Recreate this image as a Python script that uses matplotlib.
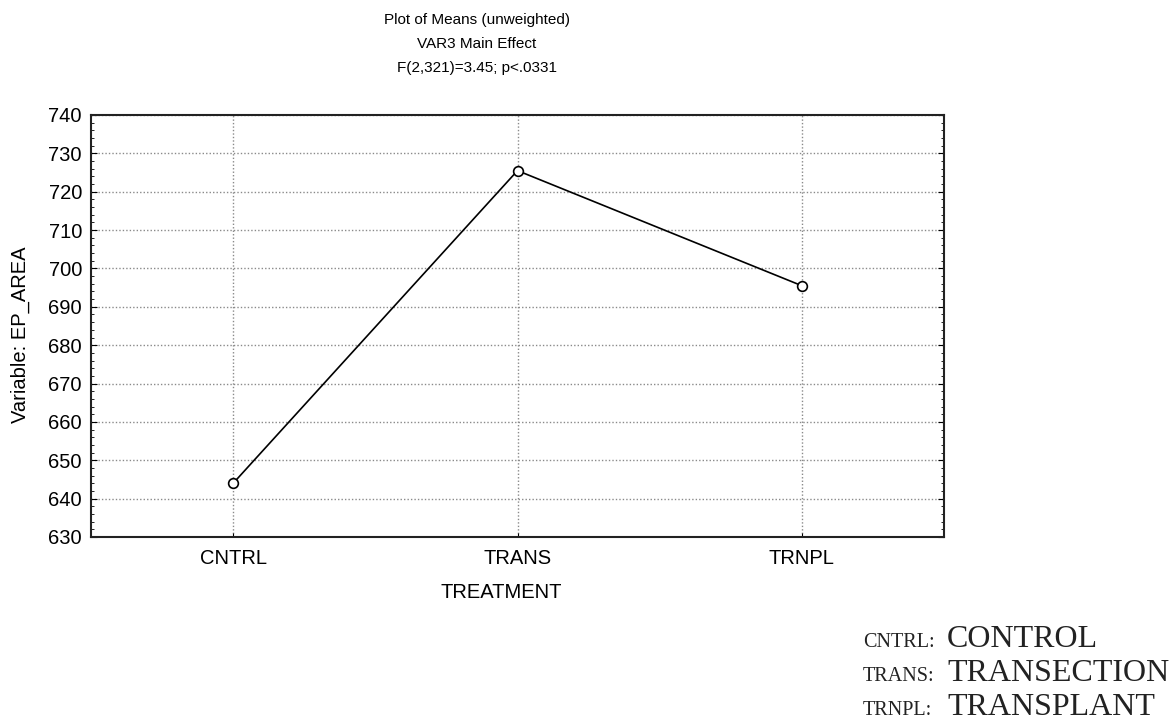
import numpy as np
import matplotlib
matplotlib.use('Agg')
import matplotlib.pyplot as plt
from matplotlib.ticker import MultipleLocator

categories = ['CNTRL', 'TRANS', 'TRNPL']
means = [644.0, 725.5, 695.5]
yticks = [630, 640, 650, 660, 670, 680, 690, 700, 710, 720, 730, 740]
title_lines = ['Plot of Means (unweighted)', 'VAR3 Main Effect', 'F(2,321)=3.45; p<.0331']
abbrevs = ['CNTRL:', 'TRANS:', 'TRNPL:']
full_names = ['CONTROL', 'TRANSECTION', 'TRANSPLANT']

W, H = 1175, 724
fig = plt.figure(figsize=(W / 100, H / 100), dpi=100)
fig.patch.set_facecolor('white')

sans = ['Liberation Sans', 'DejaVu Sans']
serif = ['Liberation Serif', 'DejaVu Serif']
fs = 14.5

# axes box measured in pixels
left, right, top, bottom = 91, 944, 115, 537
ax = fig.add_axes([left / W, 1 - bottom / H, (right - left) / W, (bottom - top) / H])

x = np.arange(len(categories))
ax.plot(x, means, color='black', lw=1.2, marker='o', ms=7,
        mfc='white', mec='black', mew=1.2, zorder=3)

ax.set_xlim(-0.5, len(categories) - 0.5)
ax.set_ylim(yticks[0], yticks[-1])
ax.set_yticks(yticks)
ax.set_xticks(x)
ax.set_xticklabels(categories, fontfamily=sans, fontsize=fs)
for lab in ax.get_yticklabels():
    lab.set_fontfamily(sans)
    lab.set_fontsize(fs)
ax.yaxis.set_minor_locator(MultipleLocator(2))

ax.tick_params(axis='y', which='both', direction='in', left=True, right=True, pad=6.5)
ax.tick_params(axis='y', which='major', length=4)
ax.tick_params(axis='y', which='minor', length=2)
ax.tick_params(axis='x', direction='in', length=3, pad=9, top=False)

ax.grid(True, which='major', color='#8a8a8a', linestyle=(0, (1, 1.5)), lw=1.0)
for s in ax.spines.values():
    s.set_linewidth(1.5)
    s.set_color('#222222')

ax.set_ylabel('Variable: EP_AREA', fontfamily=sans, fontsize=fs)
ax.yaxis.set_label_coords(-0.072, 0.48)
ax.set_xlabel('TREATMENT', fontfamily=sans, fontsize=fs)
ax.xaxis.set_label_coords((501 - left) / (right - left), -(583 - bottom) / (bottom - top))

# three-line title
for i, t in enumerate(title_lines):
    fig.text(477 / W, 1 - (20 + 24 * i) / H, t, ha='center', va='center',
             fontfamily=sans, fontsize=11)

# key for abbreviations, small caps look
for i, (a, n) in enumerate(zip(abbrevs, full_names)):
    yb = 1 - (647 + 34 * i) / H
    fig.text(863 / W, yb, a, ha='left', va='baseline', fontfamily=serif,
             fontsize=14.5, color='#222222')
    fig.text(947 / W, yb, n, ha='left', va='baseline', fontfamily=serif,
             fontsize=23, color='#222222')

fig.savefig('out.png', dpi=100, facecolor='white')
